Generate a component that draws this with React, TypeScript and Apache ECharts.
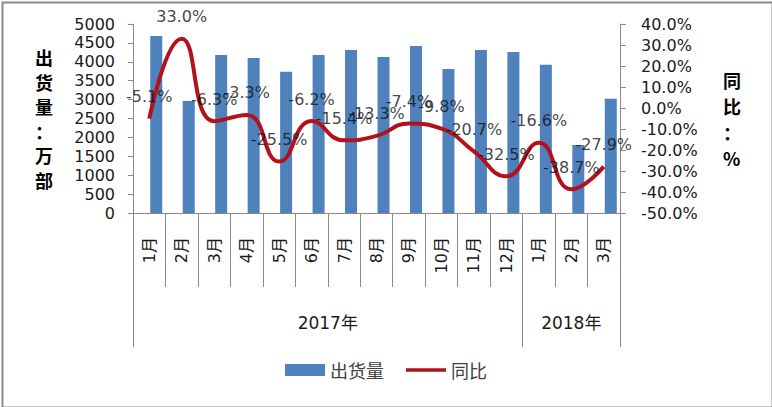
import React, { useEffect, useRef } from "react";
import * as echarts from "echarts";

const categories = ["1月", "2月", "3月", "4月", "5月", "6月", "7月", "8月", "9月", "10月", "11月", "12月", "1月", "2月", "3月"];
const shipments = [4680, 2960, 4180, 4100, 3740, 4180, 4310, 4130, 4420, 3810, 4310, 4260, 3920, 1800, 3020];
const yoy = [-5.1, 33.0, -6.3, -3.3, -25.5, -6.2, -15.4, -13.3, -7.4, -9.8, -20.7, -32.5, -16.6, -38.7, -27.9];
const years = ["2017年", "2018年"];
const yearSpans = [12, 3];
const leftAxis = { min: 0, max: 5000, interval: 500 };
const rightAxis = { min: -50, max: 40, interval: 10 };

const FONT = "'DejaVu Sans', 'Noto Sans CJK SC', sans-serif";
const CJK = "'Noto Sans CJK SC', 'DejaVu Sans', sans-serif";
const AXIS_GRAY = "#8a8a8a";
const LINE_RED = "#B3121D";

export default function App() {
  const ref = useRef<HTMLDivElement>(null);
  useEffect(() => {
    if (!ref.current) return;
    const chart = echarts.init(ref.current, null, { renderer: "svg" });

    const bounds: number[] = [0];
    const centers: number[] = [];
    let acc = 0;
    yearSpans.forEach((s) => {
      centers.push(acc + s / 2);
      acc += s;
      bounds.push(acc);
    });

    chart.setOption({
      animation: false,
      backgroundColor: "#ffffff",
      graphic: [
        {
          type: "rect",
          left: 0,
          top: 0,
          shape: { x: 1, y: 1, width: 770, height: 405 },
          style: { fill: "none", stroke: "#8c8c8c", lineWidth: 2 },
          silent: true,
        },
      ],
      grid: { left: 133, right: 152, top: 24, bottom: 194, containLabel: false },
      legend: {
        data: [
          { name: "出货量", icon: "rect" },
          { name: "同比", icon: "path://M0,0H40V3.5H0Z" },
        ],
        bottom: 23,
        left: "center",
        itemWidth: 40,
        itemHeight: 12,
        itemGap: 22,
        symbolKeepAspect: true,
        textStyle: { fontFamily: CJK, fontSize: 18, color: "#404040" },
      },
      xAxis: [
        {
          type: "category",
          data: categories,
          position: "bottom",
          axisLine: { show: true, onZero: false, lineStyle: { color: AXIS_GRAY, width: 1 } },
          axisTick: { show: true, interval: 0, length: 74, lineStyle: { color: AXIS_GRAY } },
          axisLabel: {
            interval: 0,
            rotate: 90,
            margin: 24,
            fontFamily: FONT,
            fontSize: 16,
            color: "#1a1a1a",
          },
          splitLine: { show: false },
        },
        {
          type: "value",
          position: "bottom",
          min: 0,
          max: acc,
          axisLine: { show: false, onZero: false },
          axisTick: {
            show: true,
            length: 134,
            customValues: bounds,
            lineStyle: { color: AXIS_GRAY },
          },
          axisLabel: {
            show: true,
            margin: 101,
            customValues: centers,
            formatter: (v: number) => {
              const i = centers.findIndex((c) => Math.abs(c - v) < 1e-6);
              return i >= 0 ? years[i] : "";
            },
            fontFamily: FONT,
            fontSize: 17,
            color: "#1a1a1a",
          },
          splitLine: { show: false },
        },
      ],
      yAxis: [
        {
          type: "value",
          min: leftAxis.min,
          max: leftAxis.max,
          interval: leftAxis.interval,
          position: "left",
          name: "出\n货\n量\n：\n万\n部",
          nameLocation: "middle",
          nameRotate: 0,
          nameGap: 80,
          nameTextStyle: {
            fontFamily: CJK,
            fontWeight: "bold",
            fontSize: 18,
            lineHeight: 24.6,
            color: "#000",
            padding: [10, 0, 0, 0],
          },
          axisLine: { show: true, lineStyle: { color: AXIS_GRAY } },
          axisTick: { show: true, length: 5, lineStyle: { color: AXIS_GRAY } },
          axisLabel: {
            margin: 18,
            fontFamily: FONT,
            fontSize: 16,
            color: "#1a1a1a",
            formatter: (v: number) => String(v),
          },
          splitLine: { show: false },
        },
        {
          type: "value",
          min: rightAxis.min,
          max: rightAxis.max,
          interval: rightAxis.interval,
          position: "right",
          name: "同\n比\n：\n%",
          nameLocation: "middle",
          nameRotate: 0,
          nameGap: 103,
          nameTextStyle: {
            fontFamily: CJK,
            fontWeight: "bold",
            fontSize: 18,
            lineHeight: 26,
            color: "#000",
            padding: [5, 0, 0, 0],
          },
          axisLine: { show: true, lineStyle: { color: AXIS_GRAY } },
          axisTick: { show: true, length: 6, lineStyle: { color: AXIS_GRAY } },
          axisLabel: {
            margin: 21,
            fontFamily: FONT,
            fontSize: 16,
            color: "#1a1a1a",
            formatter: (v: number) => v.toFixed(1) + "%",
          },
          splitLine: { show: false },
        },
      ],
      series: [
        {
          name: "_slot",
          type: "bar",
          xAxisIndex: 0,
          yAxisIndex: 0,
          data: categories.map(() => null),
          barWidth: 12,
          barGap: "17%",
          silent: true,
          itemStyle: { color: "transparent" },
        },
        {
          name: "出货量",
          type: "bar",
          xAxisIndex: 0,
          yAxisIndex: 0,
          data: shipments,
          barWidth: 12,
          barGap: "17%",
          itemStyle: { color: "#4F81BD" },
        },
        {
          name: "同比",
          type: "line",
          xAxisIndex: 0,
          yAxisIndex: 1,
          data: yoy,
          smooth: 0.5,
          symbol: "none",
          z: 3,
          lineStyle: { color: LINE_RED, width: 4 },
          itemStyle: { color: LINE_RED },
        },
        {
          name: "_labels",
          type: "scatter",
          xAxisIndex: 0,
          yAxisIndex: 1,
          data: yoy,
          symbol: "circle",
          symbolSize: 0.01,
          silent: true,
          z: 4,
          itemStyle: { color: LINE_RED },
          label: {
            show: true,
            position: "top",
            distance: 14,
            fontFamily: FONT,
            fontSize: 16,
            color: "#111",
            formatter: (p: any) => Number(p.value).toFixed(1) + "%",
          },
        },
      ],
    });
    return () => chart.dispose();
  }, []);
  return (
    <div
      ref={ref}
      style={{ position: "absolute", left: 0, top: 0, width: 772, height: 407, background: "#fff" }}
    />
  );
}
